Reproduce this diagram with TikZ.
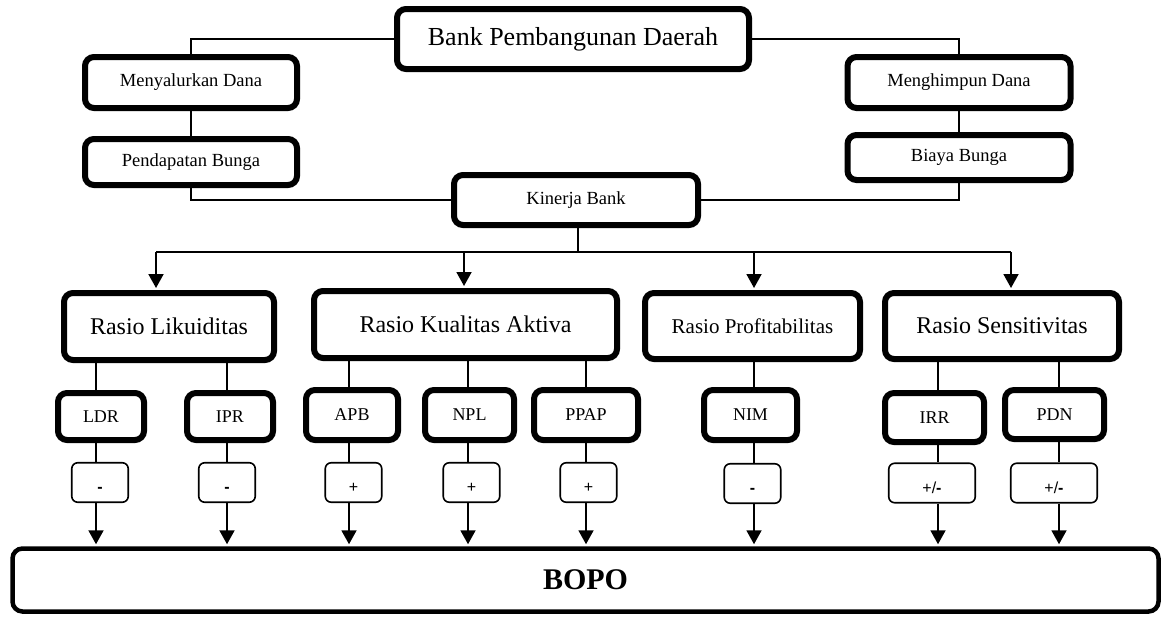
\documentclass[tikz,border=0pt]{standalone}
\usepackage{fontspec}
\setmainfont{Liberation Serif}
\newfontfamily\signfont{Liberation Sans}
\usetikzlibrary{arrows.meta}
\begin{document}
\begin{tikzpicture}[x=1pt,y=-1pt,
  thickbox/.style={draw, line width=6pt, rounded corners=9pt, inner sep=0pt, align=center},
  signbox/.style={draw, line width=1.6pt, rounded corners=6pt, inner sep=0pt, minimum height=39.5pt, text height=20pt, text depth=0pt, font=\signfont\fontsize{16}{16}\selectfont},
  conn/.style={line width=1.7pt},
  arr/.style={line width=1.9pt, shorten >=2pt, -{Triangle[length=14pt,width=15pt]}},
  fa/.style={font=\fontsize{26}{30}\selectfont},
  fb/.style={font=\fontsize{18.5}{22}\selectfont},
  fc/.style={font=\fontsize{24}{28}\selectfont},
  fd/.style={font=\fontsize{21}{25}\selectfont},
  fe/.style={font=\fontsize{18}{22}\selectfont},
]
\path[use as bounding box] (0,0) rectangle (1162,616);

% top level
\node[thickbox, fa, minimum width=352pt, minimum height=60pt] (bpd) at (573,39) {Bank Pembangunan Daerah};
\node[thickbox, fb, minimum width=212pt, minimum height=51pt] (md) at (191,82.5) {Menyalurkan Dana};
\node[thickbox, fb, minimum width=212pt, minimum height=46pt] (pb) at (191,162) {Pendapatan Bunga};
\node[thickbox, fb, minimum width=223pt, minimum height=51pt] (mh) at (959,82.5) {Menghimpun Dana};
\node[thickbox, fb, minimum width=223pt, minimum height=45pt] (bb) at (959,157.5) {Biaya Bunga};
\node[thickbox, fb, minimum width=244pt, minimum height=50pt] (kin) at (576,200) {Kinerja Bank};

\draw[conn] (bpd.west) -| (md.north);
\draw[conn] (md.south) -- (pb.north);
\draw[conn] (pb.south) |- (kin.west);
\draw[conn] (bpd.east) -| (mh.north);
\draw[conn] (mh.south) -- (bb.north);
\draw[conn] (bb.south) |- (kin.east);

% ratio groups
\node[thickbox, fc, minimum width=210pt, minimum height=67pt] (rl) at (169,326.5) {Rasio Likuiditas};
\node[thickbox, fc, minimum width=303pt, minimum height=67pt] (rka) at (465.5,324.5) {Rasio Kualitas Aktiva};
\node[thickbox, fd, minimum width=215pt, minimum height=66pt] (rp) at (752.5,326) {Rasio Profitabilitas};
\node[thickbox, fc, minimum width=234pt, minimum height=66pt] (rs) at (1002,326) {Rasio Sensitivitas};

\coordinate (j) at (578,252);
\coordinate (b1) at (156,252);
\coordinate (b2) at (464,252);
\coordinate (b3) at (754,252);
\coordinate (b4) at (1011,252);
\draw[conn] (kin.south -| j) -- (j);
\draw[conn] (b1) -- (b4);
\draw[arr] (b1) -- (b1 |- rl.north);
\draw[arr] (b2) -- (b2 |- rka.north);
\draw[arr] (b3) -- (b3 |- rp.north);
\draw[arr] (b4) -- (b4 |- rs.north);

% indicators
\node[thickbox, fe, minimum width=86pt, minimum height=47pt] (ldr) at (101,416.5) {LDR};
\node[thickbox, fe, minimum width=86pt, minimum height=47pt] (ipr) at (230,416.5) {IPR};
\node[thickbox, fe, minimum width=92pt, minimum height=50pt] (apb) at (352,415) {APB};
\node[thickbox, fe, minimum width=89pt, minimum height=50pt] (npl) at (469.5,415) {NPL};
\node[thickbox, fe, minimum width=104pt, minimum height=50pt] (ppap) at (586,415) {PPAP};
\node[thickbox, fe, minimum width=93pt, minimum height=50pt] (nim) at (750.5,415) {NIM};
\node[thickbox, fe, minimum width=99pt, minimum height=49pt] (irr) at (934.5,417.5) {IRR};
\node[thickbox, fe, minimum width=99pt, minimum height=49pt] (pdn) at (1054.5,414.5) {PDN};

% signs
\node[signbox, minimum width=56.5pt] (s1) at (100,482.5) {\textbf{-}};
\node[signbox, minimum width=56.5pt] (s2) at (227,482.5) {\textbf{-}};
\node[signbox, minimum width=56.5pt] (s3) at (353.5,482.5) {+};
\node[signbox, minimum width=56.5pt] (s4) at (471.5,482.5) {+};
\node[signbox, minimum width=56.5pt] (s5) at (588.5,482.5) {+};
\node[signbox, minimum width=56.5pt] (s6) at (752.5,483.5) {\textbf{-}};
\node[signbox, minimum width=86.5pt] (s7) at (932,483) {+/\textbf{-}};
\node[signbox, minimum width=86.5pt] (s8) at (1054,483) {+/\textbf{-}};

% BOPO
\node[draw, line width=4.5pt, rounded corners=10pt, inner sep=0pt, minimum width=1146pt, minimum height=63pt, font=\bfseries\fontsize{30}{34}\selectfont] (bopo) at (585.5,580) {BOPO};

\coordinate (c1) at (96,0);
\coordinate (c2) at (227,0);
\coordinate (c3) at (349,0);
\coordinate (c4) at (468,0);
\coordinate (c5) at (586,0);
\coordinate (c6) at (754,0);
\coordinate (c7) at (938,0);
\coordinate (c8) at (1059,0);

\draw[conn] (rl.south -| c1) -- (ldr.north -| c1);
\draw[conn] (rl.south -| c2) -- (ipr.north -| c2);
\draw[conn] (rka.south -| c3) -- (apb.north -| c3);
\draw[conn] (rka.south -| c4) -- (npl.north -| c4);
\draw[conn] (rka.south -| c5) -- (ppap.north -| c5);
\draw[conn] (rp.south -| c6) -- (nim.north -| c6);
\draw[conn] (rs.south -| c7) -- (irr.north -| c7);
\draw[conn] (rs.south -| c8) -- (pdn.north -| c8);

\draw[conn] (ldr.south -| c1) -- (s1.north -| c1);
\draw[conn] (ipr.south -| c2) -- (s2.north -| c2);
\draw[conn] (apb.south -| c3) -- (s3.north -| c3);
\draw[conn] (npl.south -| c4) -- (s4.north -| c4);
\draw[conn] (ppap.south -| c5) -- (s5.north -| c5);
\draw[conn] (nim.south -| c6) -- (s6.north -| c6);
\draw[conn] (irr.south -| c7) -- (s7.north -| c7);
\draw[conn] (pdn.south -| c8) -- (s8.north -| c8);

\draw[arr] (s1.south -| c1) -- (bopo.north -| c1);
\draw[arr] (s2.south -| c2) -- (bopo.north -| c2);
\draw[arr] (s3.south -| c3) -- (bopo.north -| c3);
\draw[arr] (s4.south -| c4) -- (bopo.north -| c4);
\draw[arr] (s5.south -| c5) -- (bopo.north -| c5);
\draw[arr] (s6.south -| c6) -- (bopo.north -| c6);
\draw[arr] (s7.south -| c7) -- (bopo.north -| c7);
\draw[arr] (s8.south -| c8) -- (bopo.north -| c8);
\end{tikzpicture}
\end{document}
